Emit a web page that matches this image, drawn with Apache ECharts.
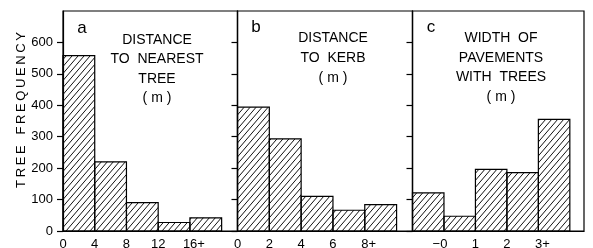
<!DOCTYPE html>
<html>
<head>
<meta charset="utf-8">
<script src="https://cdn.jsdelivr.net/npm/echarts@6/dist/echarts.min.js"></script>
<style>
  html, body { margin: 0; padding: 0; background: #fff; }
  #chart { width: 593px; height: 248px; }
</style>
</head>
<body>
<div id="chart"></div>
<script>
// bin edges and tree counts for the three histograms
const edgesA = [0, 4, 8, 12, 16, 20]
const freqA = [558, 220, 90, 27, 42]
const labelsA = ['0', '4', '8', '12', '16+']
const ticksA = [0, 4, 8, 12, 16]

const edgesB = [0, 2, 4, 6, 8, 10]
const freqB = [394, 293, 110, 66, 84]
const labelsB = ['0', '2', '4', '6', '8+']
const ticksB = [0, 2, 4, 6, 8]

const edgesC = [-1, 0, 1, 2, 3, 4]
const freqC = [121, 47, 196, 186, 355]
const labelsC = ['−0', '1', '2', '3+']
const ticksC = [0, 1, 2, 3]

const yTicks = [0, 100, 200, 300, 400, 500, 600]

const panelTitles = [
  'DISTANCE\nTO  NEAREST\nTREE\n( m )',
  'DISTANCE\nTO  KERB\n( m )',
  'WIDTH  OF\nPAVEMENTS\nWITH  TREES\n( m )'
]

const FONT = '"Liberation Sans", Arial, sans-serif'

// diagonal hatch tile
const makeHatch = () => {
  const w = 6, h = 7
  const c = document.createElement('canvas')
  c.width = w
  c.height = h
  const ctx = c.getContext('2d')
  ctx.strokeStyle = '#111'
  ctx.lineWidth = 1
  for (let k = -1; k <= 1; k++) {
    ctx.beginPath()
    ctx.moveTo(k * w, h)
    ctx.lineTo(k * w + w, 0)
    ctx.stroke()
  }
  return c
}
const hatchTile = makeHatch()

const renderBin = (params, api) => {
  const p0 = api.coord([api.value(0), api.value(2)])
  const p1 = api.coord([api.value(1), 0])
  return {
    type: 'rect',
    shape: { x: p0[0], y: p0[1], width: p1[0] - p0[0], height: p1[1] - p0[1] },
    style: { fill: { image: hatchTile, repeat: 'repeat' }, stroke: '#000', lineWidth: 1.2 }
  }
}

const toBins = (edges, freq) => freq.map((v, i) => [edges[i], edges[i + 1], v])

const plusLabel = (labels, ticks) => (value) => {
  const s = labels[ticks.indexOf(value)]
  if (s === undefined) return ''
  if (s.endsWith('+')) return '{p|' + s + '}'
  if (s.startsWith('−')) return '{m|' + s + '}'
  return s
}

const richLabel = {
  p: { padding: [0, 0, 0, 8], fontSize: 13, fontFamily: FONT, color: '#000' },
  m: { padding: [0, 8, 0, 0], fontSize: 13, fontFamily: FONT, color: '#000' }
}

const grids = [
  { left: 63, width: 174.5, top: 11, bottom: 17 },
  { left: 237.5, width: 175, top: 11, bottom: 17 },
  { left: 412.5, width: 171.5, top: 11, bottom: 17 }
].map(g => Object.assign(g, {
  show: true,
  borderColor: '#000',
  borderWidth: 1.2,
  containLabel: false,
  outerBoundsMode: 'none'
}))

const xRanges = [[0, 22], [0, 11], [-1, 4.45]]
const xTicks = [ticksA, ticksB, ticksC]
const xLabels = [labelsA, labelsB, labelsC]

const chart = echarts.init(document.getElementById('chart'))

const option = {
  animation: false,
  backgroundColor: '#fff',
  grid: grids,
  xAxis: xRanges.map((r, i) => ({
    type: 'value',
    gridIndex: i,
    min: r[0],
    max: r[1],
    splitLine: { show: false },
    axisLine: { show: true, onZero: false, lineStyle: { color: '#000', width: 1.2 } },
    axisTick: { show: false },
    axisLabel: {
      customValues: xTicks[i],
      formatter: plusLabel(xLabels[i], xTicks[i]),
      rich: richLabel,
      margin: 7,
      color: '#000',
      fontSize: 13,
      fontFamily: FONT
    }
  })),
  yAxis: [0, 1, 2].map(i => ({
    type: 'value',
    gridIndex: i,
    min: 0,
    max: 700,
    interval: 100,
    splitLine: { show: false },
    axisLine: { show: true, onZero: false, lineStyle: { color: '#000', width: 1.2 } },
    axisTick: { show: true, customValues: yTicks, length: 6, lineStyle: { color: '#000', width: 1.2 } },
    axisLabel: {
      show: i === 0,
      customValues: yTicks,
      margin: 10,
      color: '#000',
      fontSize: 13,
      fontFamily: FONT
    }
  })),
  series: [[edgesA, freqA], [edgesB, freqB], [edgesC, freqC]].map((d, i) => ({
    type: 'custom',
    xAxisIndex: i,
    yAxisIndex: i,
    renderItem: renderBin,
    encode: { x: [0, 1], y: 2 },
    data: toBins(d[0], d[1])
  })),
  graphic: [
    { type: 'text', x: 82, y: 28, style: { text: 'a', font: '17px ' + FONT, fill: '#000', align: 'center', verticalAlign: 'middle' } },
    { type: 'text', x: 256, y: 27, style: { text: 'b', font: '17px ' + FONT, fill: '#000', align: 'center', verticalAlign: 'middle' } },
    { type: 'text', x: 431, y: 27, style: { text: 'c', font: '17px ' + FONT, fill: '#000', align: 'center', verticalAlign: 'middle' } },
    { type: 'text', x: 157, y: 30, style: { text: panelTitles[0], font: '14px ' + FONT, lineHeight: 19.5, fill: '#000', align: 'center', verticalAlign: 'top' } },
    { type: 'text', x: 333, y: 28, style: { text: panelTitles[1], font: '14px ' + FONT, lineHeight: 20, fill: '#000', align: 'center', verticalAlign: 'top' } },
    { type: 'text', x: 501, y: 28.5, style: { text: panelTitles[2], font: '14px ' + FONT, lineHeight: 19.5, fill: '#000', align: 'center', verticalAlign: 'top' } },
    {
      type: 'text', x: 21, y: 110, rotation: Math.PI / 2,
      style: { text: 'T\u2009R\u2009E\u2009E   F\u2009R\u2009E\u2009Q\u2009U\u2009E\u2009N\u2009C\u2009Y', font: '13px ' + FONT, fill: '#000', align: 'center', verticalAlign: 'middle' }
    }
  ]
}

chart.setOption(option)
</script>
</body>
</html>
